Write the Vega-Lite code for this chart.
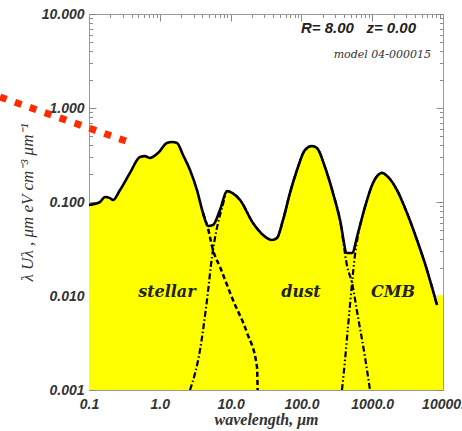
{
  "$schema": "https://vega.github.io/schema/vega-lite/v6.json",
  "width": 354,
  "height": 376,
  "autosize": {"type": "none"},
  "padding": {"left": 89, "top": 14, "right": 19, "bottom": 41},
  "background": "white",
  "config": {"view": {"stroke": null}},
  "datasets": {
    "total": [
      {"wl": 0.1, "u": 0.0929}, {"wl": 0.143, "u": 0.1}, {"wl": 0.168, "u": 0.113}, {"wl": 0.198, "u": 0.11},
      {"wl": 0.218, "u": 0.105}, {"wl": 0.274, "u": 0.134}, {"wl": 0.379, "u": 0.204}, {"wl": 0.525, "u": 0.301},
      {"wl": 0.618, "u": 0.308}, {"wl": 0.728, "u": 0.294}, {"wl": 0.944, "u": 0.332}, {"wl": 1.26, "u": 0.425},
      {"wl": 1.49, "u": 0.435}, {"wl": 1.75, "u": 0.425}, {"wl": 2.13, "u": 0.316}, {"wl": 2.67, "u": 0.219},
      {"wl": 3.35, "u": 0.134}, {"wl": 4.08, "u": 0.0764}, {"wl": 4.8, "u": 0.0556}, {"wl": 5.64, "u": 0.0569},
      {"wl": 7.08, "u": 0.0822}, {"wl": 8.9, "u": 0.131}, {"wl": 10.5, "u": 0.125}, {"wl": 13.6, "u": 0.105},
      {"wl": 20.7, "u": 0.0598}, {"wl": 28.7, "u": 0.0446}, {"wl": 38.4, "u": 0.0394}, {"wl": 45.2, "u": 0.0414},
      {"wl": 55.0, "u": 0.0644}, {"wl": 69.0, "u": 0.125}, {"wl": 86.7, "u": 0.219}, {"wl": 112, "u": 0.357},
      {"wl": 141, "u": 0.394}, {"wl": 166, "u": 0.375}, {"wl": 215, "u": 0.236}, {"wl": 279, "u": 0.125},
      {"wl": 351, "u": 0.0644}, {"wl": 441, "u": 0.0287}, {"wl": 519, "u": 0.0287}, {"wl": 630, "u": 0.0468},
      {"wl": 791, "u": 0.0885}, {"wl": 1026, "u": 0.159}, {"wl": 1374, "u": 0.204}, {"wl": 1671, "u": 0.185},
      {"wl": 2240, "u": 0.134}, {"wl": 3103, "u": 0.0764}, {"wl": 4295, "u": 0.0394}, {"wl": 5943, "u": 0.0189},
      {"wl": 8222, "u": 0.00802}
    ],
    "fill": [
      {"wl": 0.1, "u": 0.0929}, {"wl": 0.143, "u": 0.1}, {"wl": 0.168, "u": 0.113}, {"wl": 0.198, "u": 0.11},
      {"wl": 0.218, "u": 0.105}, {"wl": 0.274, "u": 0.134}, {"wl": 0.379, "u": 0.204}, {"wl": 0.525, "u": 0.301},
      {"wl": 0.618, "u": 0.308}, {"wl": 0.728, "u": 0.294}, {"wl": 0.944, "u": 0.332}, {"wl": 1.26, "u": 0.425},
      {"wl": 1.49, "u": 0.435}, {"wl": 1.75, "u": 0.425}, {"wl": 2.13, "u": 0.316}, {"wl": 2.67, "u": 0.219},
      {"wl": 3.35, "u": 0.134}, {"wl": 4.08, "u": 0.0764}, {"wl": 4.8, "u": 0.0556}, {"wl": 5.64, "u": 0.0569},
      {"wl": 7.08, "u": 0.0822}, {"wl": 8.9, "u": 0.131}, {"wl": 10.5, "u": 0.125}, {"wl": 13.6, "u": 0.105},
      {"wl": 20.7, "u": 0.0598}, {"wl": 28.7, "u": 0.0446}, {"wl": 38.4, "u": 0.0394}, {"wl": 45.2, "u": 0.0414},
      {"wl": 55.0, "u": 0.0644}, {"wl": 69.0, "u": 0.125}, {"wl": 86.7, "u": 0.219}, {"wl": 112, "u": 0.357},
      {"wl": 141, "u": 0.394}, {"wl": 166, "u": 0.375}, {"wl": 215, "u": 0.236}, {"wl": 279, "u": 0.125},
      {"wl": 351, "u": 0.0644}, {"wl": 441, "u": 0.0287}, {"wl": 519, "u": 0.0287}, {"wl": 630, "u": 0.0468},
      {"wl": 791, "u": 0.0885}, {"wl": 1026, "u": 0.159}, {"wl": 1374, "u": 0.204}, {"wl": 1671, "u": 0.185},
      {"wl": 2240, "u": 0.134}, {"wl": 3103, "u": 0.0764}, {"wl": 4295, "u": 0.0394}, {"wl": 5943, "u": 0.0189},
      {"wl": 8222, "u": 0.00802}, {"wl": 8240, "u": 0.0102}, {"wl": 10000, "u": 0.0102}
    ],
    "stellar": [
      {"wl": 4.08, "u": 0.075}, {"wl": 4.8, "u": 0.052}, {"wl": 5.64, "u": 0.0308}, {"wl": 7.08, "u": 0.0204},
      {"wl": 10.8, "u": 0.00906}, {"wl": 17.1, "u": 0.00404}, {"wl": 23.6, "u": 0.00176}, {"wl": 24.1, "u": 0.001}
    ],
    "dust": [
      {"wl": 2.67, "u": 0.001}, {"wl": 3.7, "u": 0.00267}, {"wl": 4.64, "u": 0.00906}, {"wl": 5.46, "u": 0.026},
      {"wl": 7.81, "u": 0.095}, {"wl": 8.9, "u": 0.131}, {"wl": 10.5, "u": 0.125}, {"wl": 13.6, "u": 0.105},
      {"wl": 20.7, "u": 0.0598}, {"wl": 28.7, "u": 0.0446}, {"wl": 38.4, "u": 0.0394}, {"wl": 45.2, "u": 0.0414},
      {"wl": 55.0, "u": 0.0644}, {"wl": 69.0, "u": 0.125}, {"wl": 86.7, "u": 0.219}, {"wl": 112, "u": 0.357},
      {"wl": 141, "u": 0.394}, {"wl": 166, "u": 0.375}, {"wl": 215, "u": 0.236}, {"wl": 279, "u": 0.125},
      {"wl": 351, "u": 0.0644}, {"wl": 441, "u": 0.021}, {"wl": 519, "u": 0.0137}, {"wl": 630, "u": 0.00598},
      {"wl": 791, "u": 0.00224}, {"wl": 931, "u": 0.001}
    ],
    "cmb": [
      {"wl": 374, "u": 0.001}, {"wl": 413, "u": 0.00208}, {"wl": 455, "u": 0.00468}, {"wl": 519, "u": 0.0137},
      {"wl": 571, "u": 0.0273}, {"wl": 630, "u": 0.044}, {"wl": 791, "u": 0.0885}, {"wl": 1026, "u": 0.159},
      {"wl": 1374, "u": 0.204}, {"wl": 1671, "u": 0.185}, {"wl": 2240, "u": 0.134}, {"wl": 3103, "u": 0.0764},
      {"wl": 4295, "u": 0.0394}, {"wl": 5943, "u": 0.0189}, {"wl": 8222, "u": 0.00802}
    ],
    "red": [
      {"wl": 0.00553, "u": 1.31}, {"wl": 0.379, "u": 0.43}
    ],
    "labels": [
      {"wl": 1.26, "u": 0.011, "t": "stellar"},
      {"wl": 98.6, "u": 0.011, "t": "dust"},
      {"wl": 1968, "u": 0.011, "t": "CMB"}
    ],
    "header": [
      {"wl": 4160, "u": 7.1, "t": "R=\u00a08.00\u00a0\u00a0\u00a0z=\u00a00.00"}
    ],
    "model": [
      {"wl": 6761, "u": 3.66, "t": "model 04-000015"}
    ]
  },
  "resolve": {"axis": {"x": "independent", "y": "independent"}},
  "layer": [
    {
      "data": {"name": "fill"},
      "mark": {"type": "area", "color": "#ffff00", "opacity": 1, "interpolate": "monotone"},
      "encoding": {
        "x": {
          "field": "wl", "type": "quantitative",
          "scale": {"type": "log", "domain": [0.1, 10000], "nice": false},
          "axis": {
            "orient": "bottom",
            "values": [0.1,0.2,0.3,0.4,0.5,0.6,0.7,0.8,0.9,1,2,3,4,5,6,7,8,9,10,20,30,40,50,60,70,80,90,100,200,300,400,500,600,700,800,900,1000,2000,3000,4000,5000,6000,7000,8000,9000,10000],
            "labelExpr": "abs(log(datum.value)/LN10 - round(log(datum.value)/LN10)) < 0.001 ? (datum.value > 5000 ? '10000.' : format(datum.value, '.1f')) : ''",
            "tickSize": {"condition": {"test": "abs(log(datum.value)/LN10 - round(log(datum.value)/LN10)) < 0.001", "value": -7}, "value": -3.5},
            "labelPadding": 14,
            "labelOverlap": false, "labelBound": false, "labelFlush": false,
            "labelFont": "Liberation Sans", "labelFontStyle": "italic", "labelFontWeight": "bold", "labelFontSize": 14, "labelColor": "#333333",
            "tickColor": "#8a8a8a", "domainColor": "#9a9a9a", "grid": false,
            "title": "wavelength, μm", "titleFont": "Liberation Serif", "titleFontStyle": "italic", "titleFontWeight": "bold", "titleFontSize": 16, "titleColor": "#333333", "titlePadding": -3
          }
        },
        "y": {
          "field": "u", "type": "quantitative",
          "scale": {"type": "log", "domain": [0.001, 10], "nice": false},
          "axis": {
            "orient": "left",
            "values": [0.001,0.002,0.003,0.004,0.005,0.006,0.007,0.008,0.009,0.01,0.02,0.03,0.04,0.05,0.06,0.07,0.08,0.09,0.1,0.2,0.3,0.4,0.5,0.6,0.7,0.8,0.9,1,2,3,4,5,6,7,8,9,10],
            "labelExpr": "abs(log(datum.value)/LN10 - round(log(datum.value)/LN10)) < 0.001 ? format(datum.value, '.3f') : ''",
            "tickSize": {"condition": {"test": "abs(log(datum.value)/LN10 - round(log(datum.value)/LN10)) < 0.001", "value": -7}, "value": -3.5},
            "labelPadding": 12,
            "labelOverlap": false, "labelBound": false, "labelFlush": false,
            "labelFont": "Liberation Sans", "labelFontStyle": "italic", "labelFontWeight": "bold", "labelFontSize": 14, "labelColor": "#333333",
            "tickColor": "#8a8a8a", "domainColor": "#9a9a9a", "grid": false,
            "title": "λ Uλ ,  μm eV cm⁻³ μm⁻¹", "titleFont": "Liberation Serif", "titleFontStyle": "italic", "titleFontWeight": "normal", "titleFontSize": 17, "titleColor": "#333333", "titlePadding": 5
          }
        },
        "y2": {"datum": 0.001}
      }
    },
    {
      "data": {"name": "cmb"},
      "mark": {"type": "line", "color": "black", "strokeWidth": 2.2, "strokeDash": [6, 2.5, 1.5, 2.5, 1.5, 2.5], "interpolate": "monotone"},
      "encoding": {
        "x": {"field": "wl", "type": "quantitative", "axis": null},
        "y": {"field": "u", "type": "quantitative", "axis": null}
      }
    },
    {
      "data": {"name": "dust"},
      "mark": {"type": "line", "color": "black", "strokeWidth": 2.2, "strokeDash": [6, 2.5, 1.5, 2.5], "interpolate": "monotone"},
      "encoding": {
        "x": {"field": "wl", "type": "quantitative", "axis": null},
        "y": {"field": "u", "type": "quantitative", "axis": null}
      }
    },
    {
      "data": {"name": "stellar"},
      "mark": {"type": "line", "color": "black", "strokeWidth": 2.5, "strokeDash": [5, 3], "interpolate": "monotone"},
      "encoding": {
        "x": {"field": "wl", "type": "quantitative", "axis": null},
        "y": {"field": "u", "type": "quantitative", "axis": null}
      }
    },
    {
      "data": {"name": "total"},
      "mark": {"type": "line", "color": "black", "strokeWidth": 2.6, "interpolate": "monotone"},
      "encoding": {
        "x": {
          "field": "wl", "type": "quantitative",
          "axis": {
            "orient": "top", "labels": false, "title": null,
            "values": [0.1,0.2,0.3,0.4,0.5,0.6,0.7,0.8,0.9,1,2,3,4,5,6,7,8,9,10,20,30,40,50,60,70,80,90,100,200,300,400,500,600,700,800,900,1000,2000,3000,4000,5000,6000,7000,8000,9000,10000],
            "tickSize": {"condition": {"test": "abs(log(datum.value)/LN10 - round(log(datum.value)/LN10)) < 0.001", "value": -7}, "value": -3.5},
            "tickColor": "#8a8a8a", "domainColor": "#9a9a9a", "grid": false
          }
        },
        "y": {
          "field": "u", "type": "quantitative",
          "axis": {
            "orient": "right", "labels": false, "title": null,
            "values": [0.001,0.002,0.003,0.004,0.005,0.006,0.007,0.008,0.009,0.01,0.02,0.03,0.04,0.05,0.06,0.07,0.08,0.09,0.1,0.2,0.3,0.4,0.5,0.6,0.7,0.8,0.9,1,2,3,4,5,6,7,8,9,10],
            "tickSize": {"condition": {"test": "abs(log(datum.value)/LN10 - round(log(datum.value)/LN10)) < 0.001", "value": -7}, "value": -3.5},
            "tickColor": "#8a8a8a", "domainColor": "#9a9a9a", "grid": false
          }
        }
      }
    },
    {
      "data": {"name": "red"},
      "mark": {"type": "line", "color": "#ff2a00", "strokeWidth": 7, "strokeDash": [7, 8.8], "strokeCap": "butt", "clip": false},
      "encoding": {
        "x": {"field": "wl", "type": "quantitative", "axis": null},
        "y": {"field": "u", "type": "quantitative", "axis": null}
      }
    },
    {
      "data": {"name": "labels"},
      "mark": {"type": "text", "font": "DejaVu Serif", "fontStyle": "italic", "fontWeight": "bold", "fontSize": 16, "color": "#222222", "align": "center", "baseline": "middle"},
      "encoding": {
        "x": {"field": "wl", "type": "quantitative", "axis": null},
        "y": {"field": "u", "type": "quantitative", "axis": null},
        "text": {"field": "t"}
      }
    },
    {
      "data": {"name": "header"},
      "mark": {"type": "text", "font": "Liberation Sans", "fontStyle": "italic", "fontWeight": "bold", "fontSize": 15, "color": "#222222", "align": "right", "baseline": "middle"},
      "encoding": {
        "x": {"field": "wl", "type": "quantitative", "axis": null},
        "y": {"field": "u", "type": "quantitative", "axis": null},
        "text": {"field": "t"}
      }
    },
    {
      "data": {"name": "model"},
      "mark": {"type": "text", "font": "DejaVu Serif", "fontStyle": "italic", "fontWeight": "normal", "fontSize": 11, "color": "#333333", "align": "right", "baseline": "middle"},
      "encoding": {
        "x": {"field": "wl", "type": "quantitative", "axis": null},
        "y": {"field": "u", "type": "quantitative", "axis": null},
        "text": {"field": "t"}
      }
    }
  ]
}
